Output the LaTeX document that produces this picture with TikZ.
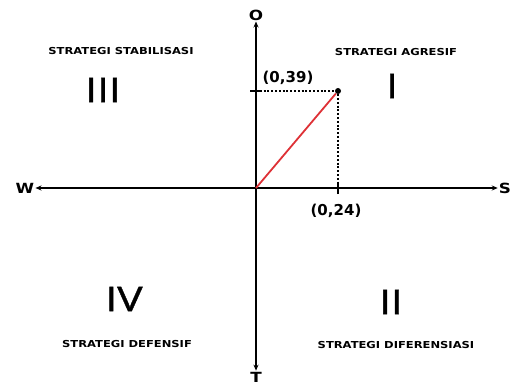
\documentclass[tikz,border=0pt]{standalone}
\usepackage{fontspec}
\setmainfont{DejaVu Sans}
\newfontfamily\widefont[FakeStretch=1.2]{DejaVu Sans}
\newfontfamily\numfont[FakeStretch=1.25, FakeBold=1.2]{Open Sans}
\usetikzlibrary{positioning,arrows.meta}
\definecolor{vecred}{RGB}{222,49,54}
\tikzset{
  axisline/.style={{Stealth[length=6pt,width=5pt]}-{Stealth[length=6pt,width=5pt]}, line width=1.2pt},
  vaxisline/.style={axisline, line width=1.6pt},
  guideline/.style={line width=2pt, dash pattern=on 2pt off 1.8pt},
  vecline/.style={line width=1.8pt, draw=vecred},
  tickmark/.style={line width=1.6pt},
  dotmark/.style={circle, fill=black, inner sep=0pt, minimum size=6pt},
  axislabel/.style={font=\widefont\bfseries\fontsize{14}{14}\selectfont, inner sep=1pt},
  coordlabel/.style={font=\bfseries\fontsize{15}{15}\selectfont, inner sep=0pt},
  stratlabel/.style={font=\widefont\bfseries\fontsize{9.6}{9.6}\selectfont, inner sep=0pt},
  numeral/.style={font=\numfont\fontsize{34}{34}\selectfont, inner sep=0pt}
}
\begin{document}
\begin{tikzpicture}[x=1pt, y=-1pt, >=Latex]
  \useasboundingbox (0,0) rectangle (511,385);
  \coordinate (org) at (256,188);
  \node[axislabel] (o) at (256,15) {O};
  \node[axislabel] (t) at (256,377) {T};
  \node[axislabel] (w) at (25,188) {W};
  \node[axislabel] (s) at (505,188) {S};
  \draw[vaxisline] (o) -- (t);
  \draw[axisline] (w) -- (s);
  \coordinate (ty) at (256,91);
  \coordinate (tx) at (338,188);
  \node[dotmark] (p) at (338,91) {};
  \draw[tickmark] ([xshift=-6pt]ty) -- ([xshift=6pt]ty);
  \draw[tickmark] ([yshift=-6pt]tx) -- ([yshift=6pt]tx);
  \draw[guideline] (ty) -- (p);
  \draw[guideline] (p) -- (tx);
  \draw[vecline] (org) -- (p);
  \node[coordlabel] (lab39) at (288,78) {(0,39)};
  \node[coordlabel] (lab24) at (336,211) {(0,24)};
  \node[stratlabel] (stabil) at (121,51) {STRATEGI STABILISASI};
  \node[stratlabel] (agresif) at (396,52) {STRATEGI AGRESIF};
  \node[stratlabel] (defensif) at (127,344) {STRATEGI DEFENSIF};
  \node[stratlabel] (diferen) at (396,345) {STRATEGI DIFERENSIASI};
  \node[numeral] (q1) at (392,86) {I};
  \node[numeral] (q2) at (391,302) {II};
  \node[numeral] (q3) at (103,90) {III};
  \node[numeral] (q4) at (124,299) {IV};
\end{tikzpicture}
\end{document}
